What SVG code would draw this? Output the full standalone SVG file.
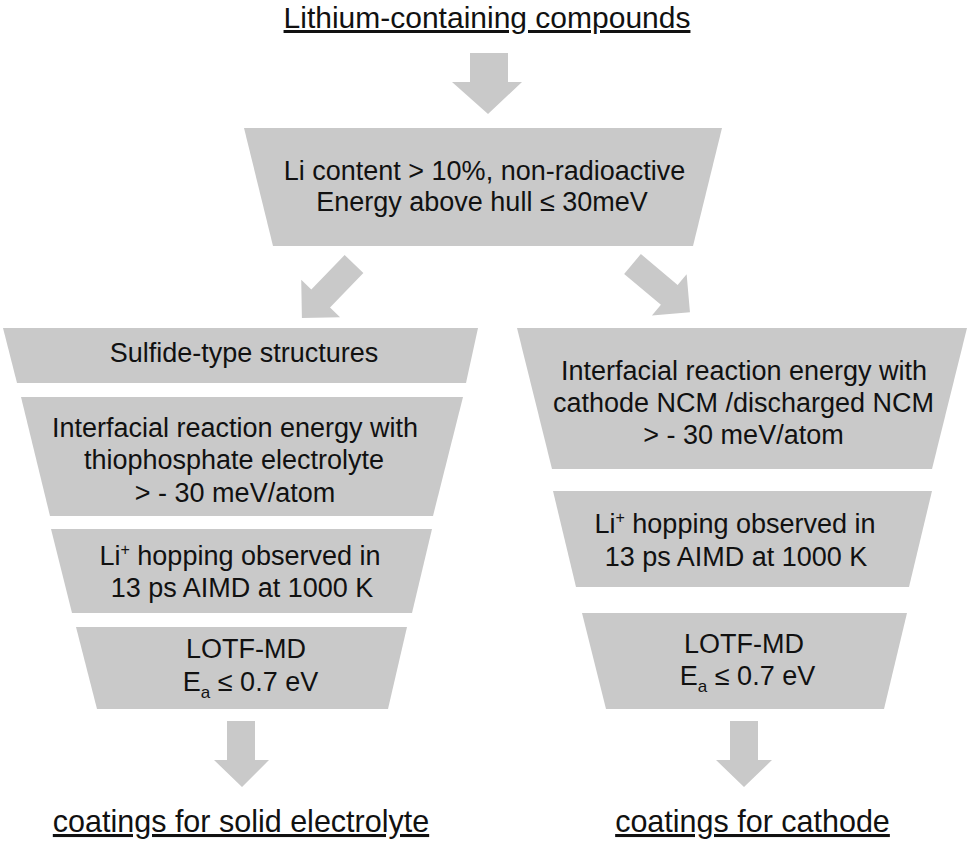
<svg xmlns="http://www.w3.org/2000/svg" width="970" height="844" viewBox="0 0 970 844">
<style>
.bg{fill:#ffffff}
.box{fill:#c9c9c9}
.arr{fill:#c9c9c9}
text{font-family:"Liberation Sans",Arial,Helvetica,sans-serif;fill:#111111;text-anchor:middle}
.t{font-size:27px}
.h{font-size:30.5px;text-decoration:underline}
.ht{font-size:30px;text-decoration:underline}
.sup{font-size:16px}
.sub{font-size:17px}
</style>
<defs>
<path id="diag" d="M-13,0 L13,0 L13,48 L27,48 L0,75 L-27,48 L-13,48 Z"/>
</defs>
<rect class="bg" x="0" y="0" width="970" height="844"/>

<g id="title"><text class="ht" x="487" y="28">Lithium-containing compounds</text></g>

<g id="n-top">
<polygon class="box" points="244,128 722,128 693,246 273,246"/>
<text class="t" x="484.5" y="180">Li content &gt; 10%, non-radioactive</text>
<text class="t" x="482" y="211">Energy above hull ≤ 30meV</text>
</g>

<g id="n-l1">
<polygon class="box" points="3,328 478,328 466,383 17,383"/>
<text class="t" x="244" y="362">Sulfide-type structures</text>
</g>
<g id="n-l2">
<polygon class="box" points="21,397 463,397 433,516 50,516"/>
<text class="t" x="235" y="437">Interfacial reaction energy with</text>
<text class="t" x="234" y="469">thiophosphate electrolyte</text>
<text class="t" x="235" y="502">&gt; - 30 meV/atom</text>
</g>
<g id="n-l3">
<polygon class="box" points="51,529 432,529 412,613 72,613"/>
<text class="t" x="240" y="565">Li<tspan class="sup" dy="-10">+</tspan><tspan dy="10"> hopping observed in</tspan></text>
<text class="t" x="242" y="597">13 ps AIMD at 1000 K</text>
</g>
<g id="n-l4">
<polygon class="box" points="76,627 407,627 388,709 97,709"/>
<text class="t" x="246" y="658">LOTF-MD</text>
<text class="t" x="250.5" y="691">E<tspan class="sub" dy="7">a</tspan><tspan dy="-7"> ≤ 0.7 eV</tspan></text>
</g>

<g id="n-r1">
<polygon class="box" points="517,328 967,328 932,469 552,469"/>
<text class="t" x="744" y="380">Interfacial reaction energy with</text>
<text class="t" x="743.5" y="412">cathode NCM /discharged NCM</text>
<text class="t" x="743.5" y="444">&gt; - 30 meV/atom</text>
</g>
<g id="n-r2">
<polygon class="box" points="553,491 932,491 909,587 576,587"/>
<text class="t" x="735" y="533">Li<tspan class="sup" dy="-10">+</tspan><tspan dy="10"> hopping observed in</tspan></text>
<text class="t" x="736" y="566">13 ps AIMD at 1000 K</text>
</g>
<g id="n-r3">
<polygon class="box" points="582,613 907,613 884,709 606,709"/>
<text class="t" x="744" y="653">LOTF-MD</text>
<text class="t" x="747.5" y="685">E<tspan class="sub" dy="7">a</tspan><tspan dy="-7"> ≤ 0.7 eV</tspan></text>
</g>

<g id="label-left"><text class="h" x="241" y="832">coatings for solid electrolyte</text></g>
<g id="label-right"><text class="h" x="752.5" y="832">coatings for cathode</text></g>

<g id="connectors">
<polygon class="arr" points="470,53 508,53 508,82 522,82 488,114 452,82 470,82"/>
<use class="arr" href="#diag" transform="translate(354,264) rotate(44)"/>
<use class="arr" href="#diag" transform="translate(632.5,264) rotate(-50)"/>
<polygon class="arr" points="227,721 255,721 255,760 269,760 242,787 214,760 227,760"/>
<polygon class="arr" points="730,721 758,721 758,760 772,760 744,787 716,760 730,760"/>
</g>
</svg>
